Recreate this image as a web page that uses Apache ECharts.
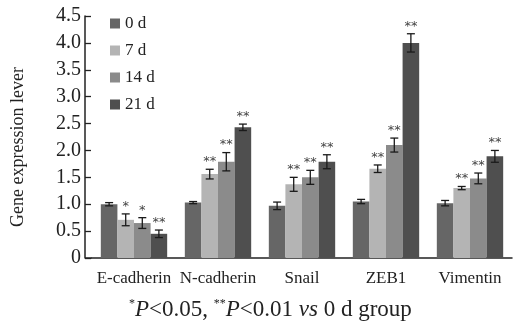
<!DOCTYPE html>
<html lang="en">
<head>
  <meta charset="UTF-8">
  <title>Gene expression</title>
  <script src="https://cdn.jsdelivr.net/npm/echarts@6/dist/echarts.min.js"></script>
  <style>
    html, body { margin: 0; padding: 0; background: #fff; }
  </style>
</head>
<body>
  <div id="main" style="width:514px;height:327px"></div>
  <script>
    var categories = ['E-cadherin', 'N-cadherin', 'Snail', 'ZEB1', 'Vimentin']
    var groups = ['0 d', '7 d', '14 d', '21 d']
    var colors = ['#666666', '#b4b4b4', '#8b8b8b', '#4f4f4f']

    // mean values per time point
    var d0 = [1.00, 1.03, 0.97, 1.05, 1.02]
    var d7 = [0.71, 1.56, 1.37, 1.66, 1.30]
    var d14 = [0.65, 1.79, 1.50, 2.10, 1.48]
    var d21 = [0.45, 2.43, 1.79, 4.00, 1.89]

    // error bar half-lengths
    var e0 = [0.03, 0.02, 0.07, 0.04, 0.05]
    var e7 = [0.11, 0.09, 0.13, 0.07, 0.03]
    var e14 = [0.10, 0.17, 0.13, 0.13, 0.10]
    var e21 = [0.07, 0.06, 0.13, 0.17, 0.11]

    // significance marks vs 0 d
    var s0 = ['', '', '', '', '']
    var s7 = ['*', '**', '**', '**', '**']
    var s14 = ['*', '**', '**', '**', '**']
    var s21 = ['**', '**', '**', '**', '**']

    var yTicks = [0, 0.5, 1.0, 1.5, 2.0, 2.5, 3.0, 3.5, 4.0, 4.5]

    var means = [d0, d7, d14, d21]
    var errs = [e0, e7, e14, e21]
    var sigs = [s0, s7, s14, s21]

    var serif = 'Liberation Serif'
    var catGap = 0.21

    var barSeries = []
    for (var g = 0; g < groups.length; g++) {
      barSeries.push({
        name: groups[g],
        type: 'bar',
        data: means[g],
        barGap: '0%',
        barCategoryGap: (catGap * 100) + '%',
        itemStyle: { color: colors[g] },
        z: 2
      })
    }

    var errData = []
    for (var g = 0; g < groups.length; g++) {
      for (var c = 0; c < categories.length; c++) {
        errData.push([c, g, means[g][c], errs[g][c], sigs[g][c]])
      }
    }

    var errSeries = {
      type: 'custom',
      data: errData,
      z: 5,
      silent: true,
      renderItem: function (params, api) {
        var c = api.value(0)
        var g = api.value(1)
        var m = api.value(2)
        var e = api.value(3)
        var sig = errData[params.dataIndex][4]
        var band = api.size([1, 0])[0]
        var barW = band * (1 - catGap) / groups.length
        var x = api.coord([c, 0])[0] + (g - 1.5) * barW
        var yTop = api.coord([c, m + e])[1]
        var yBot = api.coord([c, m - e])[1]
        var cap = 4
        var style = { stroke: '#1a1a1a', lineWidth: 1.3 }
        var children = [
          { type: 'line', shape: { x1: x, y1: yTop, x2: x, y2: yBot }, style: style },
          { type: 'line', shape: { x1: x - cap, y1: yTop, x2: x + cap, y2: yTop }, style: style },
          { type: 'line', shape: { x1: x - cap, y1: yBot, x2: x + cap, y2: yBot }, style: style }
        ]
        if (sig) {
          children.push({
            type: 'text',
            style: {
              x: x, y: yTop - 1,
              text: sig,
              align: 'center', verticalAlign: 'bottom',
              fill: '#444',
              font: '13px "DejaVu Sans"'
            }
          })
        }
        return { type: 'group', children: children }
      }
    }

    var myChart = echarts.init(document.getElementById('main'))
    var options = {
      animation: false,
      color: colors,
      grid: { left: 92, right: 2, top: 16, bottom: 69 },
      legend: {
        orient: 'vertical',
        left: 105,
        top: 10,
        itemWidth: 10,
        itemHeight: 10,
        itemGap: 10,
        icon: 'rect',
        data: groups,
        textStyle: { fontFamily: serif, fontSize: 17, color: '#222' }
      },
      title: {
        text: '{sup|*}{i|P}<0.05, {sup|**}{i|P}<0.01 {i|vs} 0 d group',
        left: 124,
        top: 293,
        textStyle: {
          fontFamily: serif, fontSize: 23, fontWeight: 'normal', color: '#222',
          rich: {
            sup: { fontFamily: serif, fontSize: 12, verticalAlign: 'top', color: '#222', lineHeight: 23 },
            i: { fontFamily: serif, fontSize: 23, fontStyle: 'italic', color: '#222' }
          }
        }
      },
      xAxis: {
        type: 'category',
        data: categories,
        axisTick: { show: false },
        axisLine: { lineStyle: { color: '#222', width: 1.5 } },
        axisLabel: { fontFamily: serif, fontSize: 17, color: '#222', margin: 12, interval: 0 }
      },
      yAxis: {
        type: 'value',
        min: yTicks[0],
        max: yTicks[yTicks.length - 1],
        interval: 0.5,
        offset: 7,
        name: 'Gene expression lever',
        nameLocation: 'middle',
        nameGap: 58,
        nameTextStyle: { fontFamily: serif, fontSize: 18, color: '#222', padding: [0, 20, 0, 0] },
        splitLine: { show: false },
        axisLine: { show: true, lineStyle: { color: '#222', width: 1.5 } },
        axisTick: { show: true, inside: true, length: 6, lineStyle: { color: '#222', width: 1.3 } },
        axisLabel: {
          fontFamily: serif, fontSize: 20, color: '#222', margin: 4,
          formatter: function (v) { return v === 0 ? '0' : v.toFixed(1) }
        }
      },
      graphic: [{
        type: 'line',
        shape: { x1: 85, y1: 258, x2: 92, y2: 258 },
        style: { stroke: '#222', lineWidth: 1.5 }
      }],
      series: barSeries.concat([errSeries])
    }
    myChart.setOption(options)
  </script>
</body>
</html>
